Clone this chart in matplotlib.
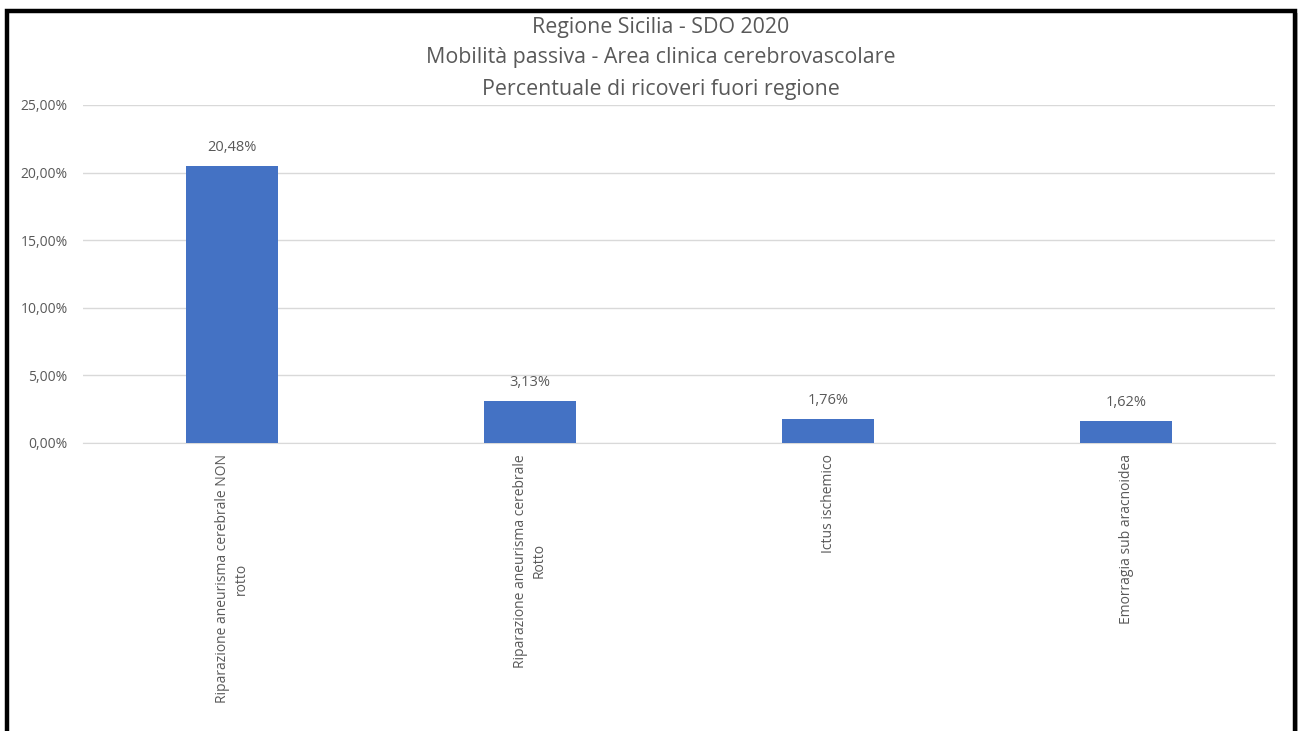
import matplotlib
matplotlib.use("Agg")
import matplotlib.pyplot as plt
from matplotlib.patches import Rectangle
from matplotlib.ticker import FuncFormatter

categories = [
    "Riparazione aneurisma cerebrale NON\nrotto",
    "Riparazione aneurisma cerebrale\nRotto",
    "Ictus ischemico",
    "Emorragia sub aracnoidea",
]
values = [20.48, 3.13, 1.76, 1.62]
y_ticks = [0, 5, 10, 15, 20, 25]

title_lines = [
    "Regione Sicilia - SDO 2020",
    "Mobilità passiva - Area clinica cerebrovascolare",
    "Percentuale di ricoveri fuori regione",
]

plt.rcParams["font.family"] = ["Open Sans", "DejaVu Sans"]
text_color = "#595959"
bar_color = "#4472C4"
grid_color = "#D9D9D9"

W, H = 1298, 731
fig = plt.figure(figsize=(W / 100, H / 100), dpi=100)
fig.patch.set_facecolor("white")

# soft shadow on the right and the outer frame
fig.patches.append(Rectangle((1296 / W, 0), 2 / W, 1 - 13 / H,
                             transform=fig.transFigure, facecolor="#BFBFBF",
                             edgecolor="none", zorder=9))
fig.patches.append(Rectangle((7 / W, -0.05), (1288 / W), 1.05 - 11 / H,
                             transform=fig.transFigure, fill=False,
                             edgecolor="black", linewidth=3.2, zorder=10))

ax = fig.add_axes([83 / W, 1 - 443 / H, (1275 - 83) / W, (443 - 105) / H])
x = range(len(categories))
ax.bar(x, values, width=0.31, color=bar_color, zorder=3)
ax.set_xlim(-0.5, len(categories) - 0.5)
ax.set_ylim(0, 25)
ax.set_yticks(y_ticks)
ax.yaxis.set_major_formatter(FuncFormatter(lambda v, p: f"{v:.2f}%".replace(".", ",")))
ax.grid(axis="y", color=grid_color, linewidth=1.0, zorder=0)
for s in ["top", "right", "left"]:
    ax.spines[s].set_visible(False)
ax.spines["bottom"].set_color(grid_color)
ax.tick_params(axis="y", length=0, pad=11, labelsize=10, labelcolor=text_color)
ax.tick_params(axis="x", length=0)
ax.set_xticks(list(x))
ax.set_xticklabels([])

for xi, c in zip(x, categories):
    ax.annotate(c, xy=(xi, 0), xycoords="data", xytext=(0, -8),
                textcoords="offset points", rotation=90, ha="center", va="top",
                multialignment="center", fontsize=10, color=text_color,
                linespacing=1.35)

for xi, v in zip(x, values):
    ax.annotate(f"{v:.2f}%".replace(".", ","), xy=(xi, v), xytext=(0, 8),
                textcoords="offset points", ha="center", va="bottom",
                fontsize=10.5, color=text_color)

for i, line in enumerate(title_lines):
    fig.text(661 / W, 1 - (27 + 31 * i) / H, line, ha="center", va="center",
             fontsize=15.4, color=text_color)

fig.savefig("out.png", dpi=100, facecolor="white")
